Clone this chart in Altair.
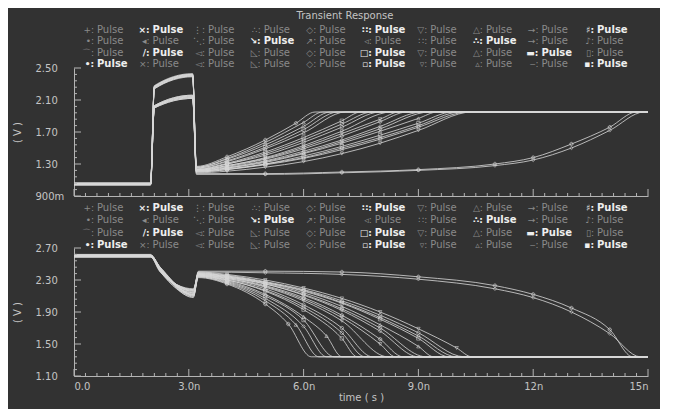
import altair as alt
import pandas as pd

BG = "#323232"
LINE = "#d8d8d8"
AXC = "#b4b4b4"
TXT = "#c4c4c4"
DIM = "#8a8a8a"
BRI = "#eeeeee"
FONT = "DejaVu Sans"

W, H = 574, 128
T_END = 15.0

# ---------------- top panel (V vs ns) ----------------
top_knot_t = [0.0, 2.0, 2.1, 3.1]
top_init = [1.05, 1.04, 1.06, 1.05, 1.05, 1.04, 1.06, 1.05, 1.05, 1.04, 1.06, 1.05, 1.05, 1.04,
            1.05, 1.06, 1.04, 1.05, 1.06, 1.05]
top_rise = [2.27, 2.01, 2.25, 2.02, 2.28, 2.00, 2.26, 2.03, 2.24, 2.01, 2.27, 2.02, 2.25, 2.00,
            2.26, 2.02, 2.24, 2.01, 2.27, 2.03]
top_peak = [2.42, 2.14, 2.40, 2.15, 2.43, 2.12, 2.41, 2.16, 2.39, 2.13, 2.42, 2.14, 2.40, 2.12,
            2.41, 2.15, 2.40, 2.13, 2.42, 2.16]
top_rec_t = [
    [3.2, 4.0, 5.0, 5.8, 6.3],
    [3.2, 4.0, 5.0, 6.0, 6.7],
    [3.2, 4.0, 5.0, 6.0, 7.1],
    [3.2, 4.0, 5.0, 6.0, 7.0, 7.5],
    [3.2, 4.0, 5.0, 6.0, 7.0, 8.0],
    [3.2, 4.0, 5.0, 6.0, 7.0, 8.3],
    [3.2, 4.0, 5.0, 6.0, 7.0, 8.0, 8.7],
    [3.2, 4.0, 5.0, 6.0, 7.0, 8.0, 9.1],
    [3.2, 4.0, 5.0, 6.0, 7.0, 8.0, 9.0, 9.5],
    [3.2, 4.0, 5.0, 6.0, 7.0, 8.0, 9.0, 9.9],
    [3.2, 4.0, 5.0, 6.0, 7.0, 8.0, 9.0, 10.3],
    [3.2, 4.0, 5.0, 6.0, 7.0, 8.0, 9.0, 10.4],
    [3.2, 5.0, 7.0, 9.0, 11.0, 12.0, 13.0, 14.0, 14.7],
    [3.2, 5.0, 7.0, 9.0, 11.0, 12.0, 13.0, 14.0, 14.9],
    [3.2, 4.0, 5.0, 6.0, 6.5],
    [3.2, 4.0, 5.0, 6.0, 6.9],
    [3.2, 4.0, 5.0, 6.0, 7.0, 7.8],
    [3.2, 4.0, 5.0, 6.0, 7.0, 8.0, 8.5],
    [3.2, 4.0, 5.0, 6.0, 7.0, 8.0, 9.3],
    [3.2, 4.0, 5.0, 6.0, 7.0, 8.0, 9.0, 10.1],
]
top_rec_v = [
    [1.27, 1.39, 1.60, 1.81, 1.95],
    [1.26, 1.36, 1.54, 1.77, 1.95],
    [1.25, 1.33, 1.49, 1.69, 1.95],
    [1.24, 1.31, 1.45, 1.63, 1.84, 1.95],
    [1.23, 1.30, 1.41, 1.57, 1.76, 1.95],
    [1.23, 1.28, 1.38, 1.53, 1.71, 1.95],
    [1.22, 1.27, 1.36, 1.49, 1.65, 1.83, 1.95],
    [1.22, 1.26, 1.34, 1.46, 1.60, 1.77, 1.95],
    [1.21, 1.25, 1.32, 1.43, 1.56, 1.71, 1.87, 1.95],
    [1.21, 1.24, 1.30, 1.40, 1.52, 1.66, 1.81, 1.95],
    [1.20, 1.23, 1.29, 1.37, 1.48, 1.61, 1.76, 1.95],
    [1.19, 1.21, 1.26, 1.33, 1.43, 1.56, 1.72, 1.95],
    [1.18, 1.18, 1.20, 1.23, 1.30, 1.38, 1.55, 1.76, 1.95],
    [1.17, 1.17, 1.19, 1.22, 1.28, 1.35, 1.50, 1.72, 1.95],
    [1.26, 1.37, 1.57, 1.82, 1.95],
    [1.25, 1.34, 1.51, 1.73, 1.95],
    [1.23, 1.30, 1.43, 1.60, 1.80, 1.95],
    [1.22, 1.28, 1.37, 1.51, 1.68, 1.86, 1.95],
    [1.21, 1.25, 1.33, 1.44, 1.58, 1.74, 1.95],
    [1.20, 1.23, 1.30, 1.38, 1.50, 1.63, 1.78, 1.95],
]
top_final = 1.95

# ---------------- bottom panel ----------------
bot_knot_t = [0.0, 2.0, 2.25, 3.12]
bot_init = [2.60, 2.59, 2.61, 2.60, 2.59, 2.61, 2.60, 2.59, 2.61, 2.60, 2.59, 2.61, 2.62, 2.60,
            2.60, 2.61, 2.59, 2.60, 2.61, 2.59]
bot_dip1 = [2.44, 2.41, 2.46, 2.43, 2.42, 2.45, 2.44, 2.40, 2.46, 2.43, 2.42, 2.45, 2.44, 2.41,
            2.43, 2.45, 2.41, 2.44, 2.42, 2.46]
bot_dip2 = [2.10, 2.16, 2.12, 2.18, 2.09, 2.15, 2.13, 2.19, 2.11, 2.17, 2.14, 2.08, 2.16, 2.12,
            2.14, 2.10, 2.17, 2.12, 2.18, 2.11]
bot_rec_t = [
    [3.25, 4.0, 5.0, 5.6, 6.2],
    [3.25, 4.0, 5.0, 6.0, 6.6],
    [3.25, 4.0, 5.0, 6.0, 6.6, 7.0],
    [3.25, 4.0, 5.0, 6.0, 7.0, 7.4],
    [3.25, 4.0, 5.0, 6.0, 7.0, 7.8],
    [3.25, 4.0, 5.0, 6.0, 7.0, 8.2],
    [3.25, 4.0, 5.0, 6.0, 7.0, 8.0, 8.6],
    [3.25, 4.0, 5.0, 6.0, 7.0, 8.0, 9.0],
    [3.25, 4.0, 5.0, 6.0, 7.0, 8.0, 9.0, 9.4],
    [3.25, 4.0, 5.0, 6.0, 7.0, 8.0, 9.0, 9.8],
    [3.25, 4.0, 5.0, 6.0, 7.0, 8.0, 9.0, 10.2],
    [3.25, 4.0, 5.0, 6.0, 7.0, 8.0, 9.0, 10.0, 10.4],
    [3.25, 5.0, 7.0, 9.0, 11.0, 12.0, 13.0, 14.0, 14.6],
    [3.25, 5.0, 7.0, 9.0, 11.0, 12.0, 13.0, 14.0, 14.8],
    [3.25, 4.0, 5.0, 5.8, 6.4],
    [3.25, 4.0, 5.0, 6.0, 6.8],
    [3.25, 4.0, 5.0, 6.0, 7.0, 7.6],
    [3.25, 4.0, 5.0, 6.0, 7.0, 8.0, 8.4],
    [3.25, 4.0, 5.0, 6.0, 7.0, 8.0, 9.2],
    [3.25, 4.0, 5.0, 6.0, 7.0, 8.0, 9.0, 10.0],
]
bot_rec_v = [
    [2.33, 2.25, 2.00, 1.75, 1.34],
    [2.34, 2.27, 2.07, 1.72, 1.34],
    [2.35, 2.29, 2.12, 1.84, 1.60, 1.34],
    [2.35, 2.30, 2.16, 1.93, 1.57, 1.34],
    [2.36, 2.31, 2.19, 1.99, 1.70, 1.34],
    [2.36, 2.32, 2.21, 2.04, 1.79, 1.34],
    [2.37, 2.33, 2.23, 2.08, 1.86, 1.56, 1.34],
    [2.37, 2.33, 2.25, 2.11, 1.92, 1.66, 1.34],
    [2.38, 2.34, 2.26, 2.14, 1.97, 1.74, 1.47, 1.34],
    [2.38, 2.35, 2.27, 2.16, 2.01, 1.81, 1.57, 1.34],
    [2.39, 2.36, 2.28, 2.18, 2.04, 1.86, 1.64, 1.34],
    [2.40, 2.37, 2.30, 2.20, 2.07, 1.90, 1.69, 1.45, 1.34],
    [2.41, 2.41, 2.40, 2.34, 2.23, 2.12, 1.95, 1.68, 1.34],
    [2.40, 2.39, 2.37, 2.31, 2.19, 2.08, 1.90, 1.63, 1.34],
    [2.34, 2.26, 2.04, 1.74, 1.34],
    [2.35, 2.28, 2.10, 1.80, 1.34],
    [2.36, 2.30, 2.17, 1.96, 1.64, 1.34],
    [2.37, 2.32, 2.22, 2.06, 1.83, 1.50, 1.34],
    [2.38, 2.34, 2.25, 2.12, 1.94, 1.70, 1.34],
    [2.39, 2.35, 2.27, 2.17, 2.02, 1.83, 1.60, 1.34],
]
bot_final = 1.34

# ---------------- axes ----------------
x_major = [0, 3, 6, 9, 12, 15]
x_minor = [round(0.3 * k, 2) for k in range(51) if k % 10]
top_y_major = [0.9, 1.3, 1.7, 2.1, 2.5]
top_y_minor = [round(0.9 + 0.08 * k, 2) for k in range(21) if k % 5]
bot_y_major = [1.1, 1.5, 1.9, 2.3, 2.7]
bot_y_minor = [round(1.1 + 0.08 * k, 2) for k in range(21) if k % 5]

# ---------------- legend ----------------
leg_syms = [
    ["+", "×", "⋮", "∴", "◇", "∷", "▽", "△", "→", "♯"],
    ["•", "◂", "⋱", "↘", "↗", "◃", "∷", "∴", "→", "♪"],
    ["⌒", "/", "◅", "◺", "◇", "□", "▽", "△", "▬", "▯"],
    ["•", "×", "◅", "◺", "◇", "▫", "▿", "▵", "‒", "▪"],
]
leg_bright = [
    [0, 1, 0, 0, 0, 1, 0, 0, 0, 1],
    [0, 0, 0, 1, 0, 0, 0, 1, 0, 0],
    [0, 1, 0, 0, 0, 1, 0, 0, 1, 0],
    [1, 0, 0, 0, 0, 1, 0, 0, 0, 1],
]
leg_name = "Pulse"

SHAPES = ["cross", "diamond", "triangle-up", "square", "circle", "triangle-down"]


def build(knot_t, init, k1, k2, rec_t, rec_v, final):
    rows, marks = [], []
    for i in range(len(init)):
        ts = knot_t + rec_t[i] + [T_END]
        vs = [init[i], init[i], k1[i], k2[i]] + rec_v[i] + [final]
        for j, (t, v) in enumerate(zip(ts, vs)):
            rows.append({"curve": i, "t": t, "v": v, "o": j})
        for t, v in zip(rec_t[i][1:-1], rec_v[i][1:-1]):
            marks.append({"curve": i, "t": t, "v": v, "shape": SHAPES[i % len(SHAPES)]})
    return pd.DataFrame(rows), pd.DataFrame(marks)


def panel(df, mk, ymaj, ymin, ydom, bottom):
    xs = alt.Scale(domain=[0, 15], nice=False, zero=False)
    ys = alt.Scale(domain=ydom, nice=False, zero=False)
    xa = dict(values=x_major, ticks=False, tickSize=0, grid=False, domainColor=AXC,
              domainWidth=1, labels=bottom)
    if bottom:
        xa.update(title="time ( s )", labelExpr="datum.value == 0 ? '0.0' : (datum.value < 10 ? format(datum.value, '.1f') + 'n' : format(datum.value, 'd') + 'n')",
                  labelFont=FONT, labelFontSize=10, labelColor=TXT, labelPadding=5,
                  titleFont=FONT, titleFontSize=10, titleFontWeight="normal", titleColor=TXT,
                  titlePadding=1)
    else:
        xa.update(title=None)
    ya = alt.Axis(values=ymaj, ticks=False, tickSize=0, grid=False, domainColor=AXC, domainWidth=1,
                  labelExpr="datum.value < 1 ? format(datum.value * 1000, 'd') + 'm' : format(datum.value, '.2f')",
                  labelAlign="left", labelPadding=39, labelFont=FONT, labelFontSize=10, labelColor=TXT,
                  title="( V )", titleFont=FONT, titleFontSize=10, titleFontWeight="normal", titleColor=TXT,
                  titleX=-57, titleY=H / 2, titleAngle=270, titleAlign="center", titleBaseline="middle")
    xe = alt.X("t:Q", scale=xs, axis=alt.Axis(**xa))
    ye = alt.Y("v:Q", scale=ys, axis=ya)

    lines = alt.Chart(df).mark_line(interpolate="monotone", strokeWidth=0.9, color=LINE, opacity=0.9, clip=True).encode(
        x=xe, y=ye, detail="curve:N", order="o:Q")
    pts = alt.Chart(mk).mark_point(size=12, strokeWidth=0.7, color=LINE, filled=False, opacity=0.8).encode(
        x=xe, y=ye, shape=alt.Shape("shape:N", scale=None))
    xmaj = alt.Chart(pd.DataFrame({"t": x_major})).mark_rule(color=AXC, strokeWidth=1).encode(
        x=xe, y=alt.value(H), y2=alt.value(H - 7))
    xmin = alt.Chart(pd.DataFrame({"t": x_minor})).mark_rule(color=AXC, strokeWidth=1).encode(
        x=xe, y=alt.value(H), y2=alt.value(H - 3))
    ymj = alt.Chart(pd.DataFrame({"v": ymaj})).mark_rule(color=AXC, strokeWidth=1).encode(
        y=ye, x=alt.value(0), x2=alt.value(7))
    ymn = alt.Chart(pd.DataFrame({"v": ymin})).mark_rule(color=AXC, strokeWidth=1).encode(
        y=ye, x=alt.value(0), x2=alt.value(3))
    return alt.layer(lines, pts, xmaj, xmin, ymj, ymn).properties(width=W, height=H)


leg_rows = []
for r in range(4):
    for c in range(10):
        leg_rows.append({"row": r, "col": c, "sym": leg_syms[r][c] + ":", "name": leg_name,
                         "bright": leg_bright[r][c]})
leg_df = pd.DataFrame(leg_rows)


def legend(y0, step, h):
    base = alt.Chart(leg_df).encode(
        x=alt.X("col:Q", scale=alt.Scale(domain=[0, 9], range=[23, 523]), axis=None),
        y=alt.Y("row:Q", scale=alt.Scale(domain=[0, 3], range=[y0, y0 + 3 * step]), axis=None),
    )
    layers = []
    for b, col, fw in [(0, DIM, "normal"), (1, BRI, "bold")]:
        sub = base.transform_filter(f"datum.bright == {b}")
        layers.append(sub.mark_text(align="right", baseline="middle", dx=-3, font=FONT, fontSize=9,
                                    fontWeight=fw, color=col).encode(text="sym:N"))
        layers.append(sub.mark_text(align="left", baseline="middle", font=FONT, fontSize=10,
                                    fontWeight=fw, color=col).encode(text="name:N"))
    return alt.layer(*layers).properties(width=W, height=h)


top_df, top_mk = build(top_knot_t, top_init, top_rise, top_peak, top_rec_t, top_rec_v, top_final)
bot_df, bot_mk = build(bot_knot_t, bot_init, bot_dip1, bot_dip2, bot_rec_t, bot_rec_v, bot_final)

p1 = panel(top_df, top_mk, top_y_major, top_y_minor, [0.9, 2.5], False)
p2 = panel(bot_df, bot_mk, bot_y_major, bot_y_minor, [1.1, 2.7], True)
l1 = legend(7, 11.3, 45)
l2 = legend(12, 12.3, 52)

chart = alt.vconcat(l1, p1, l2, p2, spacing=0, bounds="flush").properties(
    title=alt.TitleParams("Transient Response", font=FONT, fontSize=10, fontWeight="normal",
                          color=TXT, anchor="middle", frame="group", dx=-16, offset=2),
    background=BG,
    padding={"left": 4, "top": 3, "right": 11, "bottom": 7},
).configure_view(stroke=None)

chart.save("out.html", embed_options={"renderer": "svg", "actions": False})
